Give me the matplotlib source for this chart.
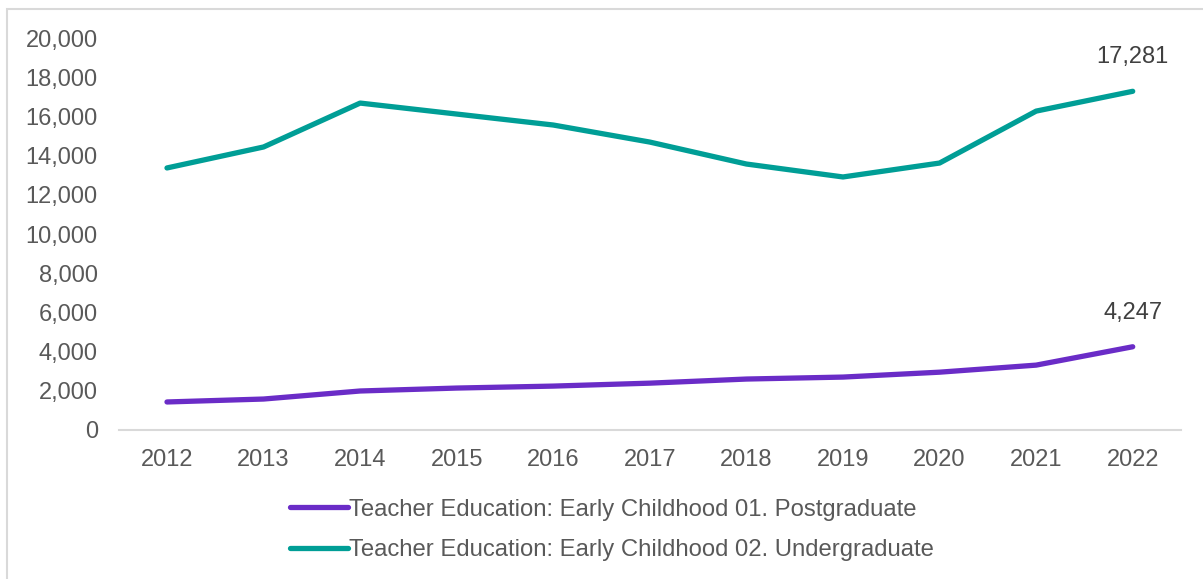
import matplotlib.pyplot as plt
from matplotlib.patches import Rectangle
from matplotlib.ticker import FuncFormatter

plt.rcParams['font.family'] = ['Liberation Sans', 'DejaVu Sans']

years = [2012, 2013, 2014, 2015, 2016, 2017, 2018, 2019, 2020, 2021, 2022]
postgrad = [1430, 1580, 1990, 2140, 2240, 2390, 2600, 2700, 2950, 3310, 4247]
undergrad = [13370, 14440, 16680, 16120, 15560, 14690, 13570, 12910, 13620, 16270, 17281]
series_names = ["Teacher Education: Early Childhood 01. Postgraduate",
                "Teacher Education: Early Childhood 02. Undergraduate"]
purple = "#6A2CC7"
teal = "#009E96"
tick_color = "#595959"

W, H = 1203, 579
fig = plt.figure(figsize=(W / 100, H / 100), dpi=100)
ax = fig.add_axes([118.7 / W, 1 - 430 / H, (1181 - 118.7) / W, (430 - 38) / H])

# outer chart border (cropped on right and bottom)
fig.patches.append(Rectangle((7 / W, -0.1), 1.2, 1 - 9 / H + 0.1, transform=fig.transFigure,
                             fill=False, edgecolor="#D9D9D9", linewidth=1.5))

x = list(range(len(years)))
ax.plot(x, postgrad, color=purple, linewidth=3.8, solid_capstyle='round', label=series_names[0])
ax.plot(x, undergrad, color=teal, linewidth=3.8, solid_capstyle='round', label=series_names[1])

for vals in (postgrad, undergrad):
    ax.annotate(f"{vals[-1]:,}", (x[-1], vals[-1]), xytext=(0, 24.5), textcoords='offset points',
                ha='center', va='center', fontsize=17, color="#404040")

ax.set_xlim(-0.5, len(years) - 0.5)
ax.set_ylim(0, 20000)
ax.set_yticks(range(0, 20001, 2000))
ax.yaxis.set_major_formatter(FuncFormatter(lambda v, p: f"{int(v):,}"))
ax.set_xticks(x)
ax.set_xticklabels([str(y) for y in years])
ax.tick_params(axis='y', length=0, pad=15, labelsize=17, labelcolor=tick_color)
ax.tick_params(axis='x', length=0, pad=13.5, labelsize=17, labelcolor=tick_color)

for s in ['top', 'right', 'left']:
    ax.spines[s].set_visible(False)
ax.spines['bottom'].set_color("#D9D9D9")
ax.spines['bottom'].set_linewidth(1.5)

fig.legend(loc='center', bbox_to_anchor=(612 / W, 1 - 530 / H), frameon=False,
           fontsize=17.2, handlelength=2.4, handletextpad=0.05, labelspacing=0.78,
           labelcolor=tick_color, borderpad=0)

fig.savefig("out.png", dpi=100, facecolor="white")
